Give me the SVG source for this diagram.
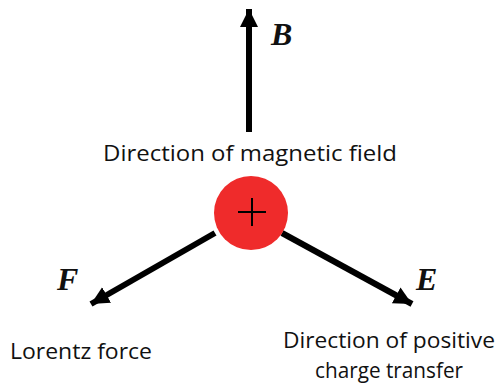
<svg xmlns="http://www.w3.org/2000/svg" width="504" height="387" viewBox="0 0 504 387">
<style>
.lbl{font-family:"Open Sans","Liberation Sans",sans-serif;font-size:22px;fill:#111}
.vec{font-family:"Liberation Serif",serif;font-style:italic;font-weight:bold;font-size:32px;fill:#111}
.ar{stroke:#000;stroke-width:6;fill:none;marker-end:url(#ah)}
</style>
<defs>
<marker id="ah" markerUnits="userSpaceOnUse" markerWidth="20" markerHeight="20" refX="18" refY="9" orient="auto">
<path d="M0,0 L18,9 L0,18 Z" fill="#000"/>
</marker>
</defs>
<g id="connectors">
<line class="ar" x1="249" y1="132" x2="249" y2="9"/>
<line class="ar" x1="215" y1="233" x2="91" y2="304"/>
<line class="ar" x1="282" y1="233" x2="412" y2="304"/>
</g>
<g id="charge">
<circle cx="251" cy="213" r="37" fill="#ef2b2b"/>
<path d="M238,212 H266 M252,198 V226" stroke="#000" stroke-width="2"/>
</g>
<g id="B"><text class="vec" x="271" y="45">B</text></g>
<g id="F"><text class="vec" x="57" y="290">F</text></g>
<g id="E"><text class="vec" x="416" y="290">E</text></g>
<g id="field-label"><text class="lbl" x="250" y="161" text-anchor="middle" textLength="294" lengthAdjust="spacingAndGlyphs">Direction of magnetic field</text></g>
<g id="force-label"><text class="lbl" x="10" y="359" textLength="142" lengthAdjust="spacingAndGlyphs">Lorentz force</text></g>
<g id="transfer-label">
<text class="lbl" x="389" y="348" text-anchor="middle" textLength="212" lengthAdjust="spacingAndGlyphs">Direction of positive</text>
<text class="lbl" x="389" y="378" text-anchor="middle" textLength="148" lengthAdjust="spacingAndGlyphs">charge transfer</text>
</g>
</svg>
